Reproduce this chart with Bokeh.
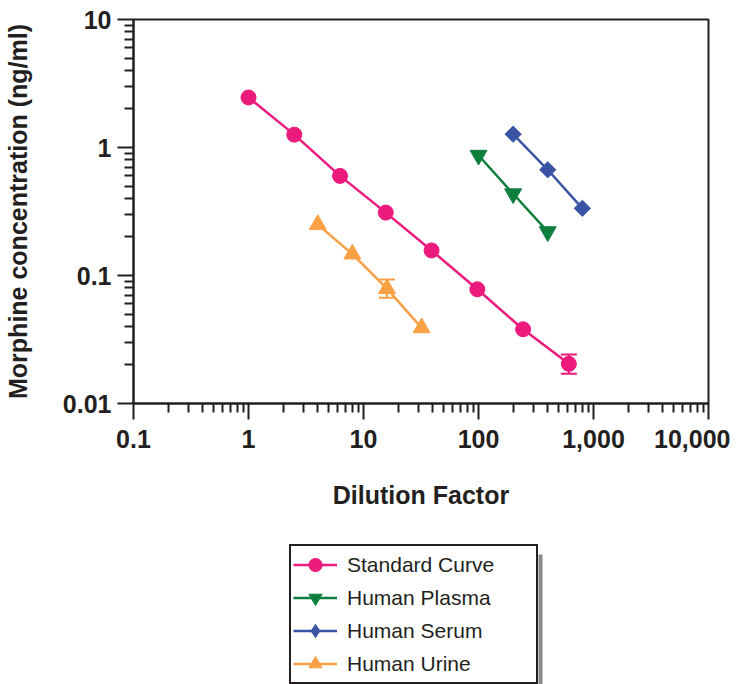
from bokeh.plotting import figure
from bokeh.layouts import column
from bokeh.models import (Legend, LegendItem, FixedTicker, ColumnDataSource,
                          Whisker, TeeHead, Range1d, BoxAnnotation)
from bokeh.embed import file_html
from bokeh.resources import INLINE

# ---- data ----
std_x = [1, 2.5, 6.25, 15.625, 39.06, 97.66, 244.1, 610.4]
std_y = [2.46, 1.26, 0.60, 0.31, 0.157, 0.078, 0.038, 0.0204]
std_err_x = [610.4]
std_err_lo = [0.0171]
std_err_hi = [0.0241]

plasma_x = [100, 200, 400]
plasma_y = [0.87, 0.435, 0.22]

serum_x = [200, 400, 800]
serum_y = [1.27, 0.67, 0.335]

urine_x = [4, 8, 16, 32]
urine_y = [0.25, 0.147, 0.079, 0.039]
urine_err_x = [16]
urine_err_lo = [0.067]
urine_err_hi = [0.093]

x_ticks = [0.1, 1, 10, 100, 1000, 10000]
x_tick_labels = ["0.1", "1", "10", "100", "1,000", "10,000"]
y_ticks = [0.01, 0.1, 1, 10]
y_tick_labels = ["0.01", "0.1", "1", "10"]

series_names = ["Standard Curve", "Human Plasma", "Human Serum", "Human Urine"]

PINK = "#EC1A7C"
GREEN = "#0F7F3E"
BLUE = "#3A54A5"
ORANGE = "#F9A144"
INK = "#231F20"
FONT = "Liberation Sans"

p = figure(x_axis_type="log", y_axis_type="log",
           x_range=Range1d(0.1, 10000), y_range=Range1d(0.01, 10),
           frame_width=575, frame_height=384,
           min_border_left=133, min_border_right=22,
           min_border_top=19, min_border_bottom=137,
           output_backend="svg", toolbar_location=None)

p.xgrid.visible = False
p.ygrid.visible = False
p.outline_line_color = INK
p.outline_line_width = 2

def minor_for(ticks):
    out = []
    for t in ticks[:-1]:
        for k in range(2, 10):
            out.append(t * k)
    return out

p.xaxis.ticker = FixedTicker(ticks=x_ticks, minor_ticks=minor_for(x_ticks))
p.yaxis.ticker = FixedTicker(ticks=y_ticks, minor_ticks=minor_for(y_ticks))
p.xaxis.major_label_overrides = {t: l for t, l in zip(x_ticks, x_tick_labels)}
p.yaxis.major_label_overrides = {t: l for t, l in zip(y_ticks, y_tick_labels)}

for ax in (p.xaxis[0], p.yaxis[0]):
    ax.axis_line_color = INK
    ax.axis_line_width = 2
    ax.major_tick_line_color = INK
    ax.major_tick_line_width = 2
    ax.minor_tick_line_color = INK
    ax.minor_tick_line_width = 2
    ax.major_tick_in = 0
    ax.minor_tick_in = 0
    ax.major_label_text_font = FONT
    ax.major_label_text_font_style = "bold"
    ax.major_label_text_font_size = "25px"
    ax.major_label_text_color = INK
    ax.axis_label_text_font = FONT
    ax.axis_label_text_font_style = "bold"
    ax.axis_label_text_font_size = "25px"
    ax.axis_label_text_color = INK

p.xaxis.major_tick_out = 16
p.xaxis.minor_tick_out = 9
p.xaxis.major_label_standoff = 10
p.xaxis.axis_label = "Dilution Factor"
p.xaxis.axis_label_standoff = 30

p.yaxis.major_tick_out = 16
p.yaxis.minor_tick_out = 9
p.yaxis.major_label_standoff = 6
p.yaxis.axis_label = "Morphine concentration (ng/ml)"
p.yaxis.axis_label_standoff = 28

# error bars
std_err = ColumnDataSource(dict(x=std_err_x, lo=std_err_lo, hi=std_err_hi))
p.add_layout(Whisker(base="x", lower="lo", upper="hi", source=std_err,
                     line_color=PINK, line_width=2,
                     upper_head=TeeHead(size=16, line_color=PINK, line_width=2),
                     lower_head=TeeHead(size=16, line_color=PINK, line_width=2)))
urine_err = ColumnDataSource(dict(x=urine_err_x, lo=urine_err_lo, hi=urine_err_hi))
p.add_layout(Whisker(base="x", lower="lo", upper="hi", source=urine_err,
                     line_color=ORANGE, line_width=2,
                     upper_head=TeeHead(size=16, line_color=ORANGE, line_width=2),
                     lower_head=TeeHead(size=16, line_color=ORANGE, line_width=2)))

styles = [
    (std_x, std_y, PINK, dict(marker="circle", size=15), dict(marker="circle", size=15)),
    (plasma_x, plasma_y, GREEN, dict(marker="inverted_triangle", size=17), dict(marker="inverted_triangle", size=17)),
    (serum_x, serum_y, BLUE, dict(marker="square", angle=0.785398, size=11.5), dict(marker="diamond", size=17)),
    (urine_x, urine_y, ORANGE, dict(marker="triangle", size=17), dict(marker="triangle", size=17)),
]

for xs, ys, col, mk, _ in styles:
    p.line(xs, ys, line_color=col, line_width=2.5)
    p.scatter(xs, ys, fill_color=col, line_color=col, **mk)

# ---- legend panel beneath the chart (its frame is aligned with the chart's) ----
# pixel-like ranges; the y range lies far from the data so the proxies stay hidden
lg = figure(width=730, height=144, x_range=Range1d(133, 708), y_range=Range1d(-200, -56),
            x_axis_location=None, y_axis_location=None, min_border=0,
            output_backend="svg", toolbar_location=None)
lg.outline_line_color = None
lg.grid.visible = False

items = []
for name, (xs, ys, col, _, lmk) in zip(series_names, styles):
    lr = lg.line(xs, ys, line_color=col, line_width=2.5)
    mr = lg.scatter(xs, ys, fill_color=col, line_color=col, **lmk)
    items.append(LegendItem(label=name, renderers=[lr, mr]))

# drop shadow of the legend box
lg.add_layout(BoxAnnotation(left=538, right=542, top=-70, bottom=-200,
                            fill_color="#8a8a8a", fill_alpha=1, line_color=None))

legend = Legend(items=items, location=(156, 0), orientation="vertical",
                border_line_color=INK, border_line_width=2.5, border_line_alpha=1,
                background_fill_color="white", background_fill_alpha=1,
                label_text_font=FONT, label_text_font_size="21px",
                label_text_color=INK, glyph_width=44, glyph_height=33,
                label_height=24, label_width=187, label_standoff=10,
                spacing=0, padding=2, margin=0)
lg.add_layout(legend, "center")

layout = column(p, lg, spacing=0)
open("out.html", "w").write(file_html(layout, INLINE))
